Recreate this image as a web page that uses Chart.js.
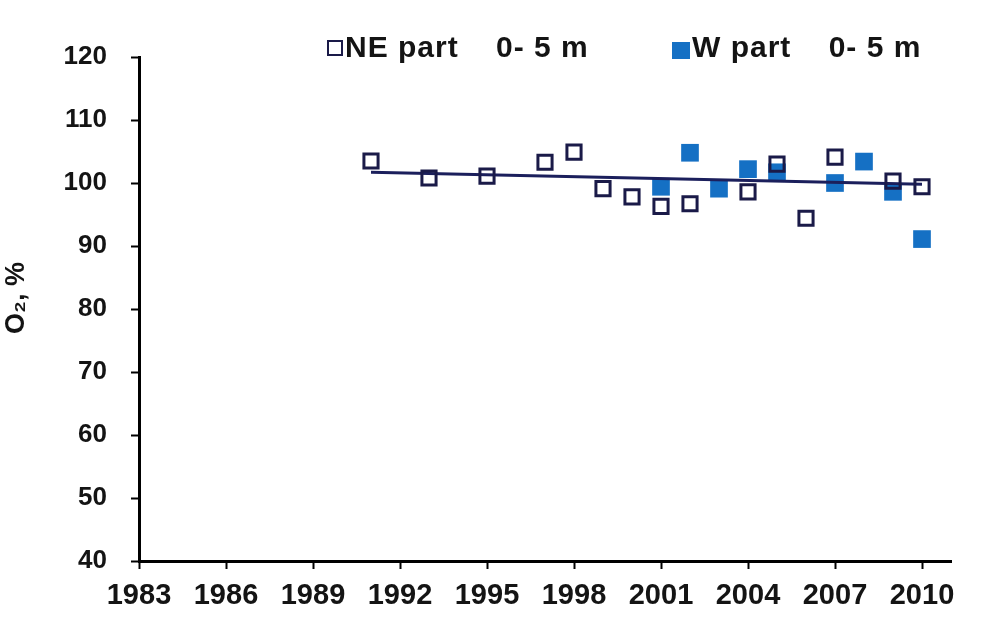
<!DOCTYPE html>
<html>
<head>
<meta charset="utf-8">
<script src="https://cdn.jsdelivr.net/npm/chart.js@4.4.1/dist/chart.umd.min.js"></script>
<style>
  html, body { margin: 0; padding: 0; background: #ffffff; }
  #wrap { width: 981px; height: 620px; position: relative; }
</style>
</head>
<body>
<div id="wrap"><canvas id="c" width="981" height="620"></canvas></div>
<script>
// Surface oxygen saturation (0-5 m), two parts of the basin
const xTickYears = [1983, 1986, 1989, 1992, 1995, 1998, 2001, 2004, 2007, 2010];
const yTickValues = [40, 50, 60, 70, 80, 90, 100, 110, 120];

const neYears = [1991, 1993, 1995, 1997, 1998, 1999, 2000, 2001, 2002, 2004, 2005, 2006, 2007, 2009, 2010];
const neO2    = [103.5, 100.8, 101.1, 103.3, 104.9, 99.1, 97.8, 96.3, 96.7, 98.6, 103.0, 94.4, 104.1, 100.3, 99.4];

const wYears = [2001, 2002, 2003, 2004, 2005, 2007, 2008, 2009, 2010];
const wO2    = [99.4, 104.8, 99.1, 102.2, 101.7, 100.0, 103.4, 98.6, 91.1];

// linear trend of the NE series
const trendYears = [1991, 2010];
const trendO2    = [101.7, 99.8];

const seriesLabels = ['NE part    0- 5 m', 'W part    0- 5 m'];
const yTitle = 'O\u2082, %';

const toPoints = (xs, ys) => xs.map((x, i) => ({ x: x, y: ys[i] }));

const FONT = "'Liberation Sans', Arial, sans-serif";
const NAVY = '#1a1a48';
const BLUE = '#1570c4';
const TEXT = '#141414';

// legend inside the top of the plot, plus the rotated y-axis title
const annotationsPlugin = {
  id: 'topLegend',
  afterDraw(chart) {
    const ctx = chart.ctx;
    const slots = [
      { box: 327, text: 345 },
      { box: 672, text: 692 }
    ];
    const cy = 48;
    ctx.save();
    ctx.font = 'bold 30px ' + FONT;
    ctx.textBaseline = 'middle';
    if ('letterSpacing' in ctx) ctx.letterSpacing = '1px';
    let k = 0;
    chart.data.datasets.forEach(ds => {
      if (!ds.legend) return;
      const s = slots[k++];
      if (ds.filled) {
        ctx.fillStyle = ds.backgroundColor;
        ctx.fillRect(s.box, cy - 6, 18, 17);
      } else {
        ctx.strokeStyle = ds.borderColor;
        ctx.lineWidth = 2;
        ctx.strokeRect(s.box + 1, cy - 7, 14, 14);
      }
      ctx.fillStyle = TEXT;
      ctx.fillText(ds.label, s.text, cy + 1);
    });
    ctx.restore();

    ctx.save();
    ctx.translate(17, 298);
    ctx.rotate(-Math.PI / 2);
    ctx.font = 'bold 27px ' + FONT;
    ctx.textAlign = 'center';
    ctx.textBaseline = 'middle';
    ctx.fillStyle = TEXT;
    ctx.fillText(yTitle, 0, 0);
    ctx.restore();
  }
};

new Chart(document.getElementById('c'), {
  type: 'scatter',
  data: {
    datasets: [
      {
        label: seriesLabels[0],
        legend: true,
        filled: false,
        data: toPoints(neYears, neO2),
        pointStyle: 'rect',
        pointRadius: 10,
        pointHoverRadius: 10,
        borderColor: NAVY,
        backgroundColor: 'rgba(0,0,0,0)',
        borderWidth: 3,
        order: 0
      },
      {
        label: 'trend',
        legend: false,
        data: toPoints(trendYears, trendO2),
        showLine: true,
        pointRadius: 0,
        borderColor: '#1b1f5c',
        borderWidth: 3,
        order: 1
      },
      {
        label: seriesLabels[1],
        legend: true,
        filled: true,
        data: toPoints(wYears, wO2),
        pointStyle: 'rect',
        pointRadius: 12.5,
        pointHoverRadius: 12.5,
        borderColor: BLUE,
        backgroundColor: BLUE,
        borderWidth: 0,
        order: 2
      }
    ]
  },
  options: {
    responsive: false,
    animation: false,
    events: [],
    layout: { padding: { left: 0, top: 57, right: 30, bottom: 0 } },
    plugins: {
      legend: { display: false },
      tooltip: { enabled: false }
    },
    scales: {
      x: {
        type: 'linear',
        min: 1983,
        max: 2011,
        afterBuildTicks(scale) { scale.ticks = xTickYears.map(v => ({ value: v })); },
        afterFit(scale) { scale.height = 59; },
        ticks: {
          color: TEXT,
          font: { family: FONT, size: 29, weight: 'bold' },
          padding: 10,
          maxRotation: 0,
          autoSkip: false,
          callback: v => String(v)
        },
        grid: {
          display: true,
          drawOnChartArea: false,
          drawTicks: true,
          tickLength: 8,
          tickWidth: 2,
          tickColor: '#000'
        },
        border: { display: true, color: '#000', width: 3 }
      },
      y: {
        type: 'linear',
        min: 40,
        max: 120,
        afterBuildTicks(scale) { scale.ticks = yTickValues.map(v => ({ value: v })); },
        afterFit(scale) { scale.width = 139; },
        ticks: {
          color: TEXT,
          font: { family: FONT, size: 26, weight: 'bold' },
          padding: 24,
          autoSkip: false
        },
        grid: {
          display: true,
          drawOnChartArea: false,
          drawTicks: true,
          tickLength: 8,
          tickWidth: 2,
          tickColor: '#000'
        },
        border: { display: true, color: '#000', width: 3 }
      }
    }
  },
  plugins: [annotationsPlugin]
});
</script>
</body>
</html>
